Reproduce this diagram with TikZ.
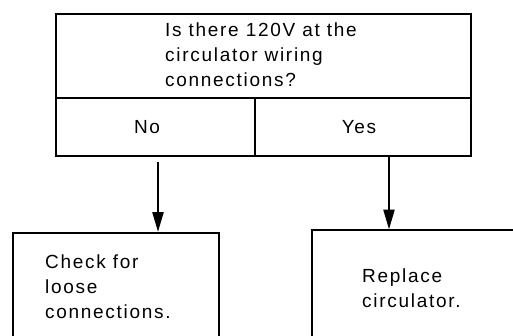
\documentclass[tikz,border=0pt]{standalone}
\usepackage{fontspec}
\setmainfont{Liberation Sans}[LetterSpace=9]
\usetikzlibrary{arrows.meta}
\begin{document}
\begin{tikzpicture}[x=1pt,y=-1pt,
  box/.style={draw,line width=2.2pt,rectangle,inner sep=0pt,anchor=north west},
  txt/.style={anchor=north west,inner sep=0pt,align=left,font=\fontsize{19}{25}\selectfont},
  lbl/.style={inner sep=0pt,font=\fontsize{19}{25}\selectfont},
  conn/.style={line width=2.4pt,-{Triangle[length=20pt,width=11pt]}}]
\useasboundingbox (0,0) rectangle (513,335);
\clip (0,0) rectangle (513,335);
\node[box,minimum width=415pt,minimum height=84pt] (q) at (55,13) {};
\node[box,minimum width=199pt,minimum height=58pt] (no) at (55,97) {};
\node[box,minimum width=216pt,minimum height=58pt] (yes) at (254,97) {};
\node[box,minimum width=206pt,minimum height=130pt] (chk) at (12,232) {};
\node[box,minimum width=230pt,minimum height=130pt] (rep) at (311,229) {};
\node[txt] (qt) at (165,23) {Is there 120V at the\\circulator wiring\\connections?};
\node[lbl] (not) at (147,127) {No};
\node[lbl] (yest) at (359,127) {Yes};
\node[txt] (chkt) at (45,255) {Check for\\loose\\connections.};
\node[txt] (rept) at (362,269) {Replace\\circulator.};
\coordinate (a1) at (158,162);
\draw[conn] (a1) -- (a1 |- chk.north);
\draw[conn] (389,155) -- (389,229.5);
\end{tikzpicture}
\end{document}
